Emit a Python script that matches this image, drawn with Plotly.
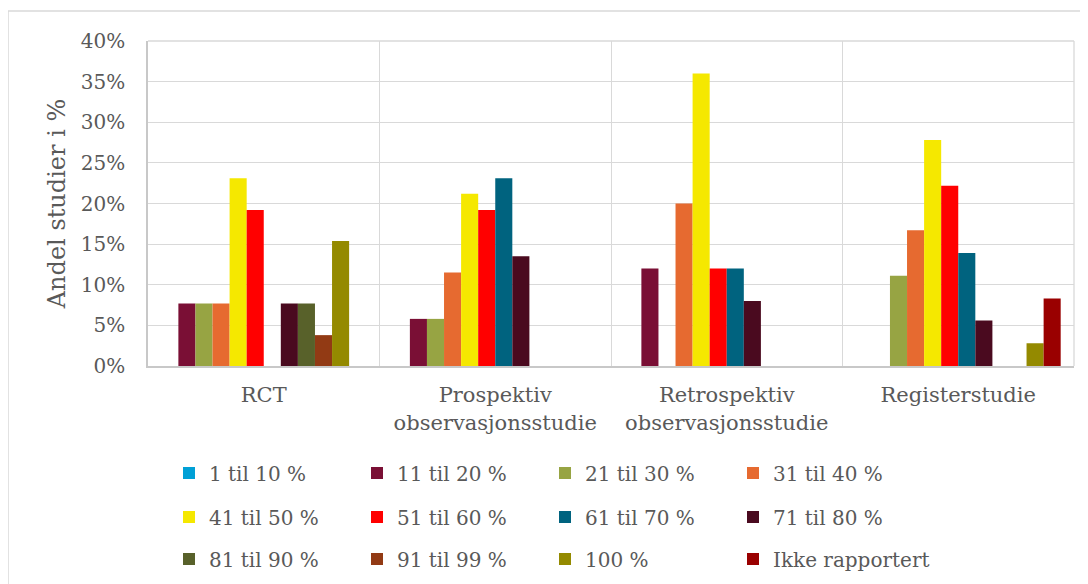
import plotly.graph_objects as go

categories = ["RCT", "Prospektiv<br>observasjonsstudie", "Retrospektiv<br>observasjonsstudie", "Registerstudie"]
series_names = ["1 til 10 %", "11 til 20 %", "21 til 30 %", "31 til 40 %",
                "41 til 50 %", "51 til 60 %", "61 til 70 %", "71 til 80 %",
                "81 til 90 %", "91 til 99 %", "100 %", "Ikke rapportert"]
colors = ["#00A0D6", "#7A0F35", "#97A443", "#E66A30",
          "#F5E800", "#FF0000", "#00637F", "#4A0A1F",
          "#58612A", "#923A14", "#948A00", "#9A0000"]
# values in % per series, per category (RCT, Prospektiv, Retrospektiv, Register)
v_1_10 = [0, 0, 0, 0]
v_11_20 = [7.7, 5.8, 12.0, 0]
v_21_30 = [7.7, 5.8, 0, 11.1]
v_31_40 = [7.7, 11.5, 20.0, 16.7]
v_41_50 = [23.1, 21.2, 36.0, 27.8]
v_51_60 = [19.2, 19.2, 12.0, 22.2]
v_61_70 = [0, 23.1, 12.0, 13.9]
v_71_80 = [7.7, 13.5, 8.0, 5.6]
v_81_90 = [7.7, 0, 0, 0]
v_91_99 = [3.8, 0, 0, 0]
v_100 = [15.4, 0, 0, 2.8]
v_ikke = [0, 0, 0, 8.3]
values = [v_1_10, v_11_20, v_21_30, v_31_40, v_41_50, v_51_60,
          v_61_70, v_71_80, v_81_90, v_91_99, v_100, v_ikke]
y_ticks = [0, 5, 10, 15, 20, 25, 30, 35, 40]

FONT = "DejaVu Serif"
TXT = "#595959"
# legend rows (4 per row); the last entry gets its own legend so its text is not clipped
legend_ids = ["legend"] * 4 + ["legend2"] * 4 + ["legend3"] * 3 + ["legend4"]

fig = go.Figure()
for i, (name, col, vals) in enumerate(zip(series_names, colors, values)):
    fig.add_trace(go.Bar(
        x=categories, y=[v / 100 for v in vals], name=name,
        marker=dict(color=col, line=dict(width=0)),
        legend=legend_ids[i],
    ))

leg_common = dict(orientation="h", xanchor="left", yanchor="middle",
                  font=dict(family=FONT, size=20, color=TXT),
                  entrywidth=143, entrywidthmode="pixels",
                  bgcolor="rgba(0,0,0,0)", itemclick=False, itemdoubleclick=False)

# page renders with an 8px body margin, so figure coords = screen - 8
W, H = 1080, 576
ml, mr, mt, mb = 140, 14, 33, 218
pw, ph = W - ml - mr, H - mt - mb
col_step = 188

def lx(px):
    return (px - ml) / pw

def ly(py):
    return (H - mb - py) / ph

leg4 = dict(leg_common)
leg4["entrywidth"] = 0

fig.update_layout(
    width=W, height=H,
    margin=dict(l=ml, r=mr, t=mt, b=mb, autoexpand=False),
    paper_bgcolor="white", plot_bgcolor="white",
    barmode="group", bargap=0.115, bargroupgap=0,
    font=dict(family=FONT, color=TXT),
    showlegend=True,
    legend=dict(x=lx(161), y=ly(465), **leg_common),
    legend2=dict(x=lx(161), y=ly(509), **leg_common),
    legend3=dict(x=lx(161), y=ly(551), **leg_common),
    legend4=dict(x=lx(161 + 3 * col_step), y=ly(551), **leg4),
    xaxis=dict(
        type="category", tickson="boundaries", showgrid=True,
        gridcolor="#D9D9D9", gridwidth=1.3,
        showline=True, linecolor="#C8C8C8", linewidth=2, mirror=False,
        ticks="", ticklabelstandoff=9,
        tickfont=dict(family=FONT, size=21, color=TXT),
    ),
    yaxis=dict(
        range=[0, 0.4], tickvals=[t / 100 for t in y_ticks],
        tickformat=".0%", showgrid=True, gridcolor="#D9D9D9", gridwidth=1.3,
        showline=True, linecolor="#C8C8C8", linewidth=1.5, zeroline=False,
        ticks="", ticklen=0, ticklabelstandoff=17,
        tickfont=dict(family=FONT, size=20, color=TXT),
        title=dict(text="Andel studier i %", font=dict(family=FONT, size=24, color=TXT), standoff=8),
    ),
    shapes=[
        dict(type="rect", xref="paper", yref="paper",
             x0=lx(0), x1=lx(1095), y0=ly(3), y1=ly(600),
             line=dict(color="#D9D9D9", width=1.5), fillcolor="rgba(0,0,0,0)", layer="below"),
        dict(type="line", xref="paper", yref="paper", x0=1, x1=1, y0=0, y1=1,
             line=dict(color="#D9D9D9", width=1.3)),
        dict(type="line", xref="paper", yref="paper", x0=0, x1=1, y0=1, y1=1,
             line=dict(color="#D9D9D9", width=1.3)),
    ],
)

fig.write_html("out.html")
